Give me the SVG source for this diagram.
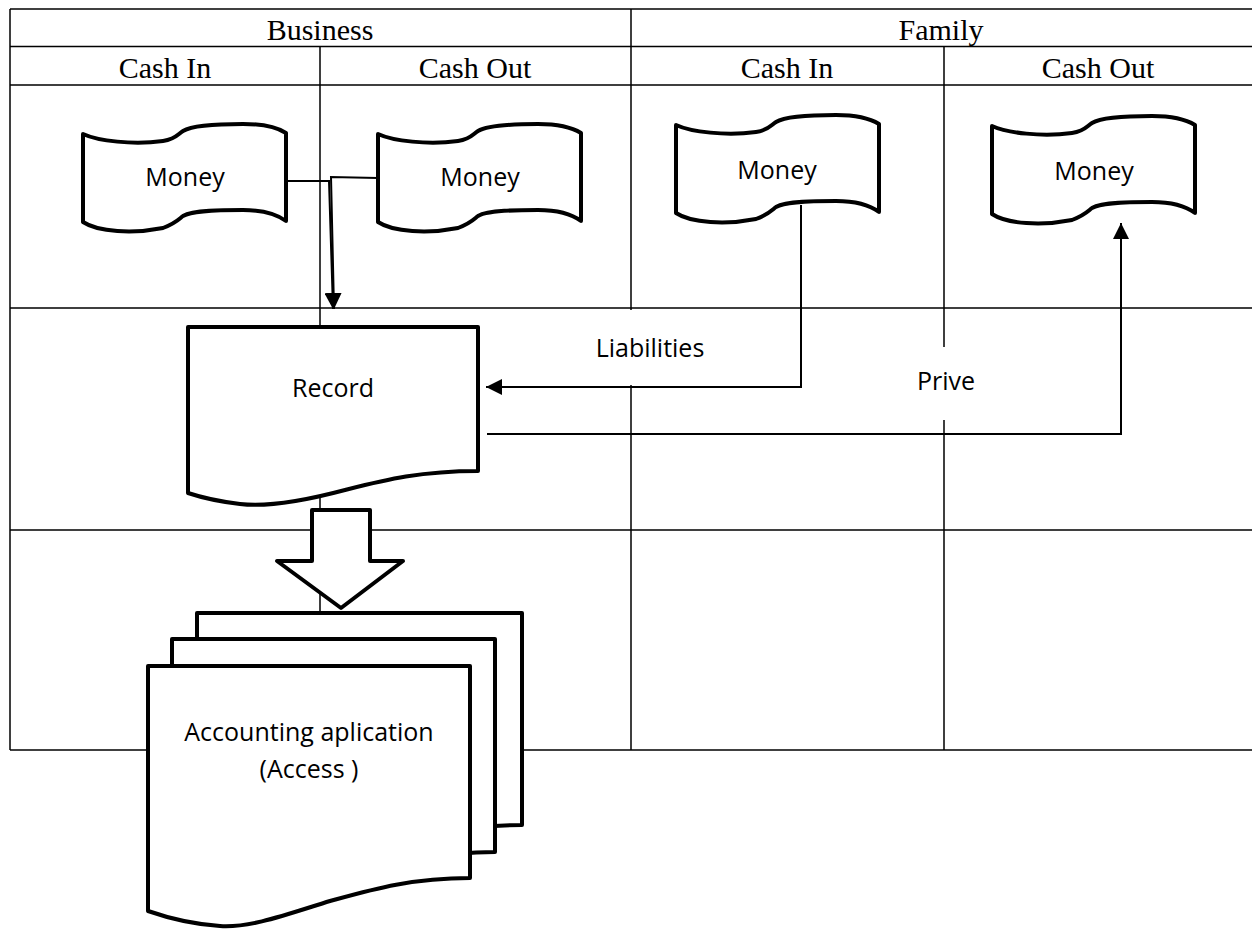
<svg xmlns="http://www.w3.org/2000/svg" width="1252" height="932" viewBox="0 0 1252 932">
<style>
.grid{stroke:#000;stroke-width:1.5;fill:none}
.hdr{font-family:"Liberation Serif","Times New Roman",serif;font-size:30px;fill:#000;text-anchor:middle}
.lbl{font-family:"Open Sans","Noto Sans",sans-serif;font-size:25px;fill:#000;text-anchor:middle}
.shape{fill:#fff;stroke:#000;stroke-width:4;stroke-linejoin:round}
.conn{fill:none;stroke:#000;stroke-width:2}
</style>
<defs>
<marker id="ah" viewBox="0 0 16 16" markerWidth="16" markerHeight="16" refX="16" refY="8" orient="auto" markerUnits="userSpaceOnUse"><path d="M0,0 L16,8 L0,16 Z" fill="#000"/></marker>
<path id="tape" d="M0,10 C15,17 50,21 80,17 C93,15 95,10 100,7 C110,1 140,0 160,0 C180,0 195,4 203,9 L203,97 C195,91 180,86 160,86 C140,86 110,86 100,92 C95,96 93,99 80,104 C50,110 15,108 0,98 Z"/>
</defs>
<rect width="1252" height="932" fill="#fff"/>
<g id="table">
<path class="grid" d="M10,9 H1252" stroke-width="2"/>
<path class="grid" d="M10,46.5 H1252 M10,85 H1252 M10,308 H1252 M10,530 H1252"/>
<path class="grid" d="M10,750 H1252" stroke-width="2"/>
<path class="grid" d="M10,9 V750 M320,46.5 V750 M631,9 V750 M944,46.5 V750"/>
<text class="hdr" x="320" y="39.5">Business</text>
<text class="hdr" x="941" y="39.5">Family</text>
<text class="hdr" x="165" y="77.5">Cash In</text>
<text class="hdr" x="475" y="77.5">Cash Out</text>
<text class="hdr" x="787" y="77.5">Cash In</text>
<text class="hdr" x="1098" y="77.5">Cash Out</text>
</g>
<g id="connectors">
<path class="conn" d="M287,181 H329 L333,309" marker-end="url(#ah)"/>
<path class="conn" d="M378,178 L331,177 L334,309" marker-end="url(#ah)"/>
<path class="conn" d="M801,205 V387 H486" marker-end="url(#ah)"/>
<path class="conn" d="M487,434 H1121 V223" marker-end="url(#ah)"/>
<polygon class="shape" points="312,510 370,510 370,561 403,561 341,608 277,561 312,561"/>
</g>
<g id="label-liabilities">
<rect x="534" y="310" width="229" height="75" fill="#fff"/>
<text class="lbl" x="650" y="357">Liabilities</text>
</g>
<g id="label-prive">
<rect x="880" y="347" width="130" height="73" fill="#fff"/>
<text class="lbl" x="946" y="390">Prive</text>
</g>
<g id="money-business-in">
<use href="#tape" class="shape" transform="translate(83,124)"/>
<text class="lbl" x="185" y="186">Money</text>
</g>
<g id="money-business-out">
<use href="#tape" class="shape" transform="translate(378,124)"/>
<text class="lbl" x="480" y="186">Money</text>
</g>
<g id="money-family-in">
<use href="#tape" class="shape" transform="translate(676,115)"/>
<text class="lbl" x="777" y="179">Money</text>
</g>
<g id="money-family-out">
<use href="#tape" class="shape" transform="translate(992,116)"/>
<text class="lbl" x="1094" y="180">Money</text>
</g>
<g id="record">
<path class="shape" d="M188,327 H478 V471 C420,471 385,480 345,490 C300,502 265,507 240,504 C215,501 200,497 188,493 Z"/>
<text class="lbl" x="333" y="397">Record</text>
</g>
<g id="accounting-app">
<path class="shape" d="M197,613 H522 V825 C462,825 422,837 382,848 C337,862 302,874 272,872 C242,870 219,864 197,857 Z"/>
<path class="shape" d="M172,639 H495 V852 C435,852 395,864 355,875 C310,889 275,901 245,899 C215,897 192,891 172,884 Z"/>
<path class="shape" d="M148,666 H470 V878 C410,878 370,890 330,901 C285,915 250,928 220,926 C190,924 168,918 148,911 Z"/>
<text class="lbl" x="309" y="741">Accounting aplication</text>
<text class="lbl" x="309" y="778">(Access )</text>
</g>
</svg>
